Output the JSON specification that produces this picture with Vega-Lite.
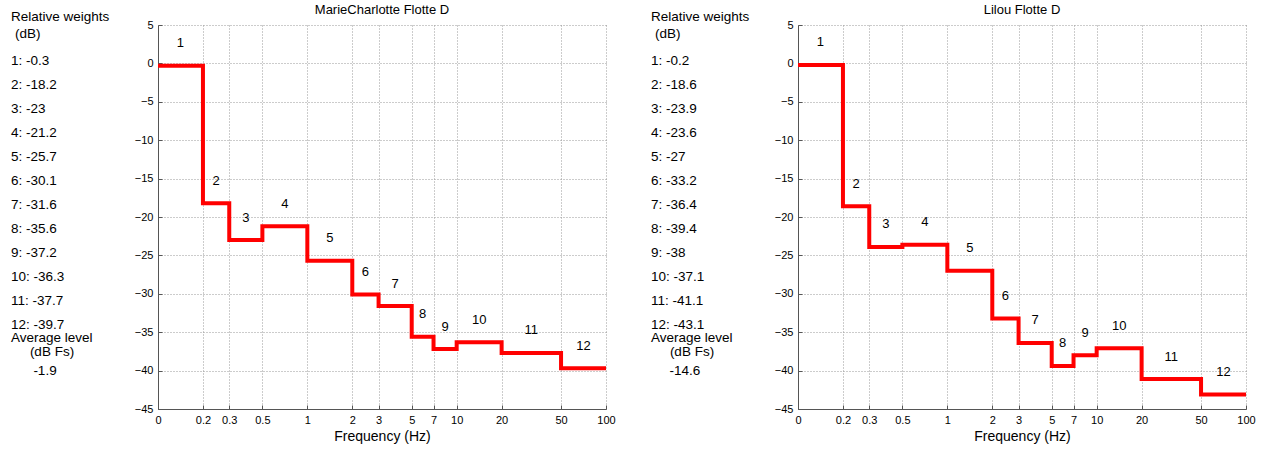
{
  "$schema": "https://vega.github.io/schema/vega-lite/v6.json",
  "autosize": {"type": "pad"},
  "padding": {"left": 11, "top": 4, "right": 5, "bottom": 5},
  "spacing": 45,
  "bounds": "flush",
  "config": {
    "view": {"stroke": null},
    "font": "Liberation Sans",
    "title": {"fontSize": 13, "fontWeight": "normal", "color": "#000", "offset": 2, "font": "Liberation Sans"},
    "axis": {
      "labelFont": "Liberation Sans", "titleFont": "Liberation Sans",
      "labelFontSize": 11, "labelColor": "#000",
      "titleFontSize": 14, "titleFontWeight": "normal", "titleColor": "#000",
      "domainColor": "#555", "tickColor": "#555", "tickSize": -4, "labelPadding": 9,
      "grid": true, "gridColor": "#999", "gridDash": [1, 2], "gridOpacity": 1,
      "labelOverlap": false, "labelFlush": false, "tickCount": 30
    },
    "text": {"fontSize": 13, "color": "#000"}
  },
  "datasets": {
    "bands": [
      {"subject": "MarieCharlotte Flotte D", "band": 1, "lo": 0.1, "hi": 0.2, "w": -0.3},
      {"subject": "MarieCharlotte Flotte D", "band": 2, "lo": 0.2, "hi": 0.3, "w": -18.2},
      {"subject": "MarieCharlotte Flotte D", "band": 3, "lo": 0.3, "hi": 0.5, "w": -23},
      {"subject": "MarieCharlotte Flotte D", "band": 4, "lo": 0.5, "hi": 1, "w": -21.2},
      {"subject": "MarieCharlotte Flotte D", "band": 5, "lo": 1, "hi": 2, "w": -25.7},
      {"subject": "MarieCharlotte Flotte D", "band": 6, "lo": 2, "hi": 3, "w": -30.1},
      {"subject": "MarieCharlotte Flotte D", "band": 7, "lo": 3, "hi": 5, "w": -31.6},
      {"subject": "MarieCharlotte Flotte D", "band": 8, "lo": 5, "hi": 7, "w": -35.6},
      {"subject": "MarieCharlotte Flotte D", "band": 9, "lo": 7, "hi": 10, "w": -37.2},
      {"subject": "MarieCharlotte Flotte D", "band": 10, "lo": 10, "hi": 20, "w": -36.3},
      {"subject": "MarieCharlotte Flotte D", "band": 11, "lo": 20, "hi": 50, "w": -37.7},
      {"subject": "MarieCharlotte Flotte D", "band": 12, "lo": 50, "hi": 100, "w": -39.7},
      {"subject": "Lilou Flotte D", "band": 1, "lo": 0.1, "hi": 0.2, "w": -0.2},
      {"subject": "Lilou Flotte D", "band": 2, "lo": 0.2, "hi": 0.3, "w": -18.6},
      {"subject": "Lilou Flotte D", "band": 3, "lo": 0.3, "hi": 0.5, "w": -23.9},
      {"subject": "Lilou Flotte D", "band": 4, "lo": 0.5, "hi": 1, "w": -23.6},
      {"subject": "Lilou Flotte D", "band": 5, "lo": 1, "hi": 2, "w": -27},
      {"subject": "Lilou Flotte D", "band": 6, "lo": 2, "hi": 3, "w": -33.2},
      {"subject": "Lilou Flotte D", "band": 7, "lo": 3, "hi": 5, "w": -36.4},
      {"subject": "Lilou Flotte D", "band": 8, "lo": 5, "hi": 7, "w": -39.4},
      {"subject": "Lilou Flotte D", "band": 9, "lo": 7, "hi": 10, "w": -38},
      {"subject": "Lilou Flotte D", "band": 10, "lo": 10, "hi": 20, "w": -37.1},
      {"subject": "Lilou Flotte D", "band": 11, "lo": 20, "hi": 50, "w": -41.1},
      {"subject": "Lilou Flotte D", "band": 12, "lo": 50, "hi": 100, "w": -43.1}
    ],
    "levels": [
      {"subject": "MarieCharlotte Flotte D", "avg": -1.9},
      {"subject": "Lilou Flotte D", "avg": -14.6}
    ],
    "headers": [
      {"t": "Relative weights", "line": -0.833},
      {"t": "Average level", "line": 12.55}
    ],
    "units": [
      {"t": "(dB)", "line": -0.125}
    ],
    "subheaders": [
      {"t": "(dB Fs)", "line": 13.12}
    ]
  },
  "hconcat": [
    {
      "width": 102, "height": 384,
      "layer": [
        {
          "data": {"name": "bands"},
          "transform": [
            {"filter": "datum.subject === 'MarieCharlotte Flotte D'"},
            {"calculate": "datum.band + ': ' + datum.w", "as": "label"}
          ],
          "mark": {"type": "text", "align": "left", "baseline": "middle", "fontSize": 13.5},
          "encoding": {
            "x": {"value": 0},
            "y": {"field": "band", "type": "quantitative", "scale": {"domain": [-0.5, 15.5], "reverse": true, "nice": false, "zero": false}, "axis": null},
            "text": {"field": "label"}
          }
        },
        {
          "data": {"name": "headers"},
          "mark": {"type": "text", "align": "left", "baseline": "middle", "fontSize": 13.5},
          "encoding": {
            "x": {"value": 0},
            "y": {"field": "line", "type": "quantitative", "scale": {"domain": [-0.5, 15.5], "reverse": true, "nice": false, "zero": false}, "axis": null},
            "text": {"field": "t"}
          }
        },
        {
          "data": {"name": "units"},
          "mark": {"type": "text", "align": "left", "baseline": "middle", "fontSize": 13.5, "dx": 4},
          "encoding": {
            "x": {"value": 0},
            "y": {"field": "line", "type": "quantitative", "scale": {"domain": [-0.5, 15.5], "reverse": true, "nice": false, "zero": false}, "axis": null},
            "text": {"field": "t"}
          }
        },
        {
          "data": {"name": "subheaders"},
          "mark": {"type": "text", "align": "center", "baseline": "middle", "dx": 41, "fontSize": 13.5},
          "encoding": {
            "x": {"value": 0},
            "y": {"field": "line", "type": "quantitative", "scale": {"domain": [-0.5, 15.5], "reverse": true, "nice": false, "zero": false}, "axis": null},
            "text": {"field": "t"}
          }
        },
        {
          "data": {"name": "levels"},
          "transform": [{"filter": "datum.subject === 'MarieCharlotte Flotte D'"}],
          "mark": {"type": "text", "align": "center", "baseline": "middle", "dx": 34, "fontSize": 13.5},
          "encoding": {
            "x": {"value": 0},
            "y": {"datum": 13.92, "type": "quantitative", "scale": {"domain": [-0.5, 15.5], "reverse": true, "nice": false, "zero": false}, "axis": null},
            "text": {"field": "avg"}
          }
        }
      ]
    },
    {
      "width": 448, "height": 384,
      "title": {"text": "MarieCharlotte Flotte D"},
      "data": {"name": "bands"},
      "transform": [{"filter": "datum.subject === 'MarieCharlotte Flotte D'"}],
      "layer": [
        {
          "transform": [{"fold": ["lo", "hi"], "as": ["edge", "f"]}],
          "mark": {"type": "line", "color": "#ff0000", "strokeWidth": 4, "strokeJoin": "miter", "strokeCap": "butt"},
          "encoding": {
            "x": {"field": "f", "type": "quantitative",
              "scale": {"type": "log", "domain": [0.1, 100], "nice": false},
              "axis": {"title": "Frequency (Hz)", "titlePadding": 4, "labelOverlap": false, "tickCount": 30, "values": [0.1, 0.2, 0.3, 0.5, 1, 2, 3, 5, 7, 10, 20, 50, 100],
                "labelExpr": "datum.value < 0.15 ? '0' : '' + datum.value"}},
            "y": {"field": "w", "type": "quantitative",
              "scale": {"domain": [-45, 5], "nice": false, "zero": false},
              "axis": {"title": null, "labelOverlap": false, "tickCount": 30, "values": [-45, -40, -35, -30, -25, -20, -15, -10, -5, 0, 5]}},
            "order": [{"field": "band", "sort": "ascending"}, {"field": "edge", "sort": "descending"}]
          }
        },
        {
          "transform": [{"calculate": "sqrt(datum.lo * datum.hi)", "as": "mid"}],
          "mark": {"type": "text", "dy": -22.5, "baseline": "middle"},
          "encoding": {
            "x": {"field": "mid", "type": "quantitative"},
            "y": {"field": "w", "type": "quantitative"},
            "text": {"field": "band"}
          }
        }
      ]
    },
    {
      "width": 102, "height": 384,
      "layer": [
        {
          "data": {"name": "bands"},
          "transform": [
            {"filter": "datum.subject === 'Lilou Flotte D'"},
            {"calculate": "datum.band + ': ' + datum.w", "as": "label"}
          ],
          "mark": {"type": "text", "align": "left", "baseline": "middle", "fontSize": 13.5},
          "encoding": {
            "x": {"value": 0},
            "y": {"field": "band", "type": "quantitative", "scale": {"domain": [-0.5, 15.5], "reverse": true, "nice": false, "zero": false}, "axis": null},
            "text": {"field": "label"}
          }
        },
        {
          "data": {"name": "headers"},
          "mark": {"type": "text", "align": "left", "baseline": "middle", "fontSize": 13.5},
          "encoding": {
            "x": {"value": 0},
            "y": {"field": "line", "type": "quantitative", "scale": {"domain": [-0.5, 15.5], "reverse": true, "nice": false, "zero": false}, "axis": null},
            "text": {"field": "t"}
          }
        },
        {
          "data": {"name": "units"},
          "mark": {"type": "text", "align": "left", "baseline": "middle", "fontSize": 13.5, "dx": 4},
          "encoding": {
            "x": {"value": 0},
            "y": {"field": "line", "type": "quantitative", "scale": {"domain": [-0.5, 15.5], "reverse": true, "nice": false, "zero": false}, "axis": null},
            "text": {"field": "t"}
          }
        },
        {
          "data": {"name": "subheaders"},
          "mark": {"type": "text", "align": "center", "baseline": "middle", "dx": 41, "fontSize": 13.5},
          "encoding": {
            "x": {"value": 0},
            "y": {"field": "line", "type": "quantitative", "scale": {"domain": [-0.5, 15.5], "reverse": true, "nice": false, "zero": false}, "axis": null},
            "text": {"field": "t"}
          }
        },
        {
          "data": {"name": "levels"},
          "transform": [{"filter": "datum.subject === 'Lilou Flotte D'"}],
          "mark": {"type": "text", "align": "center", "baseline": "middle", "dx": 34, "fontSize": 13.5},
          "encoding": {
            "x": {"value": 0},
            "y": {"datum": 13.92, "type": "quantitative", "scale": {"domain": [-0.5, 15.5], "reverse": true, "nice": false, "zero": false}, "axis": null},
            "text": {"field": "avg"}
          }
        }
      ]
    },
    {
      "width": 448, "height": 384,
      "title": {"text": "Lilou Flotte D"},
      "data": {"name": "bands"},
      "transform": [{"filter": "datum.subject === 'Lilou Flotte D'"}],
      "layer": [
        {
          "transform": [{"fold": ["lo", "hi"], "as": ["edge", "f"]}],
          "mark": {"type": "line", "color": "#ff0000", "strokeWidth": 4, "strokeJoin": "miter", "strokeCap": "butt"},
          "encoding": {
            "x": {"field": "f", "type": "quantitative",
              "scale": {"type": "log", "domain": [0.1, 100], "nice": false},
              "axis": {"title": "Frequency (Hz)", "titlePadding": 4, "labelOverlap": false, "tickCount": 30, "values": [0.1, 0.2, 0.3, 0.5, 1, 2, 3, 5, 7, 10, 20, 50, 100],
                "labelExpr": "datum.value < 0.15 ? '0' : '' + datum.value"}},
            "y": {"field": "w", "type": "quantitative",
              "scale": {"domain": [-45, 5], "nice": false, "zero": false},
              "axis": {"title": null, "labelOverlap": false, "tickCount": 30, "values": [-45, -40, -35, -30, -25, -20, -15, -10, -5, 0, 5]}},
            "order": [{"field": "band", "sort": "ascending"}, {"field": "edge", "sort": "descending"}]
          }
        },
        {
          "transform": [{"calculate": "sqrt(datum.lo * datum.hi)", "as": "mid"}],
          "mark": {"type": "text", "dy": -22.5, "baseline": "middle"},
          "encoding": {
            "x": {"field": "mid", "type": "quantitative"},
            "y": {"field": "w", "type": "quantitative"},
            "text": {"field": "band"}
          }
        }
      ]
    }
  ]
}
